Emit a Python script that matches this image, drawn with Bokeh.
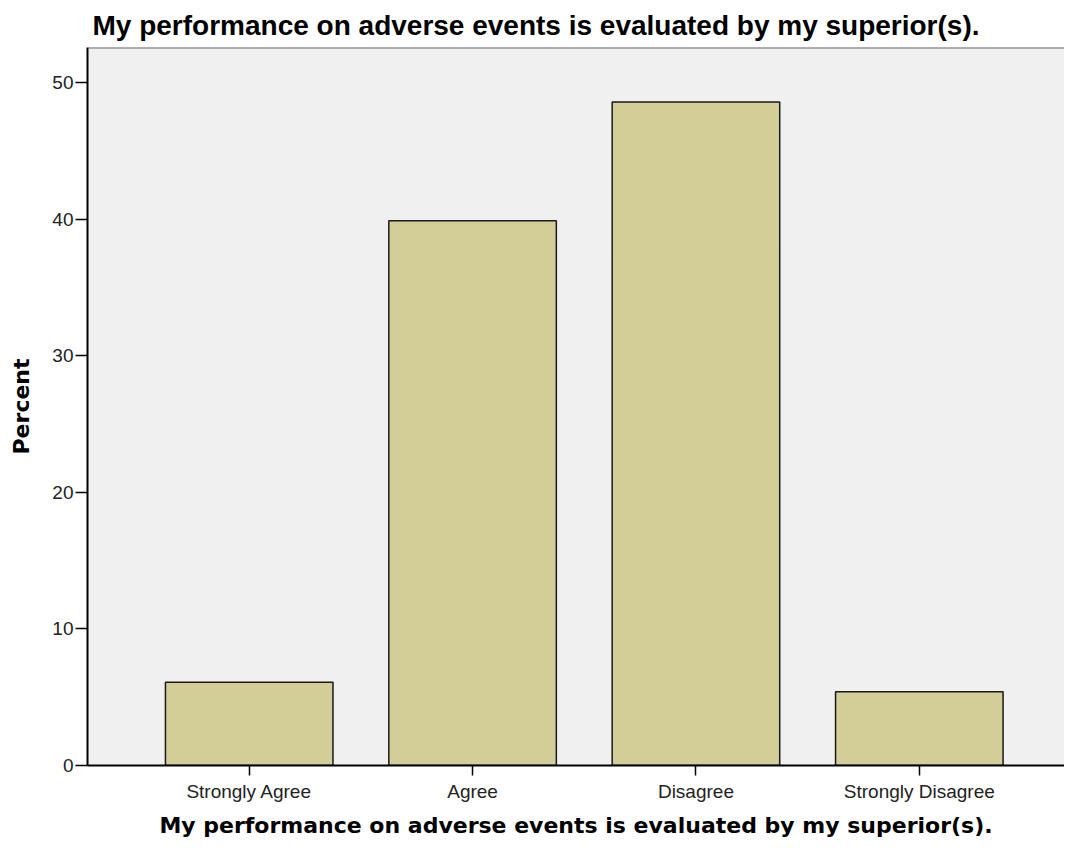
from bokeh.plotting import figure
from bokeh.models import Range1d, Span, SingleIntervalTicker, FixedTicker, ColumnDataSource
from bokeh.embed import file_html
from bokeh.resources import INLINE

title_text = "My performance on adverse events is evaluated by my superior(s)."
categories = ["Strongly Agree", "Agree", "Disagree", "Strongly Disagree"]
percent = [6.1, 39.9, 48.6, 5.4]
y_max = 52.6

positions = list(range(len(categories)))
source = ColumnDataSource(dict(pos=positions, category=categories, percent=percent))

p = figure(
    x_range=Range1d(-0.724, len(categories) - 1 + 0.65),
    y_range=Range1d(0, y_max),
    width=1064, height=840,
    output_backend="svg", toolbar_location=None,
    min_border_left=87, min_border_right=0, min_border_top=47, min_border_bottom=75,
    title=title_text,
)
p.background_fill_color = "#f0f0f0"
p.border_fill_color = "white"
p.outline_line_color = None
p.grid.visible = False

p.title.text_font = "Liberation Sans"
p.title.text_font_style = "bold"
p.title.text_font_size = "28px"
p.title.text_color = "#000000"
p.title.offset = 5
p.title.standoff = 13

p.vbar(x="pos", top="percent", width=0.75, source=source, fill_color="#d3ce97",
       line_color="#1a1a1a", line_width=1.5)

p.add_layout(Span(location=y_max, dimension="width", line_color="#666666", line_width=2))

# axes
for ax in (p.xaxis[0], p.yaxis[0]):
    ax.axis_line_color = "#000000"
    ax.axis_line_width = 2
    ax.major_tick_line_color = "#000000"
    ax.major_tick_line_width = 1.5
    ax.major_tick_in = 0
    ax.minor_tick_line_color = None
    ax.major_label_text_font = "Liberation Sans"
    ax.major_label_text_color = "#222222"
    ax.axis_label_text_font = "DejaVu Sans"
    ax.axis_label_text_font_style = "bold"
    ax.axis_label_text_font_size = "22px"
    ax.axis_label_text_color = "#000000"

p.xaxis.ticker = FixedTicker(ticks=positions)
p.xaxis.major_label_overrides = {i: c for i, c in zip(positions, categories)}
p.xaxis.axis_label = title_text
p.xaxis.major_tick_out = 10
p.xaxis.major_label_text_font_size = "19px"
p.xaxis.major_label_standoff = 5
p.xaxis.axis_label_standoff = 8

p.yaxis.axis_label = "Percent"
p.yaxis.ticker = SingleIntervalTicker(interval=10)
p.yaxis.major_tick_out = 12
p.yaxis.major_label_text_font_size = "19px"
p.yaxis.major_label_standoff = 2
p.yaxis.axis_label_standoff = 15

open("out.html", "w").write(file_html(p, INLINE))
